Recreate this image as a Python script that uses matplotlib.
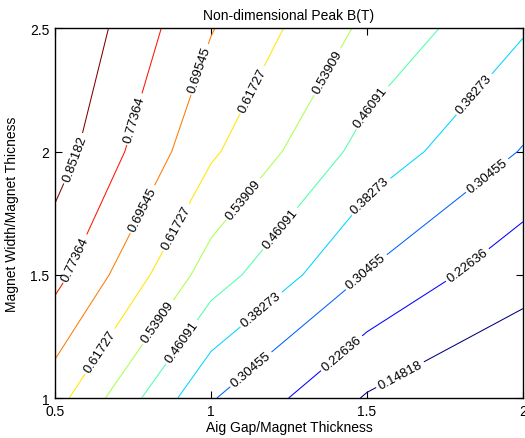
import numpy as np
import matplotlib
matplotlib.use("Agg")
import matplotlib.pyplot as plt

plt.rcParams["font.family"] = ["Liberation Sans", "DejaVu Sans"]

# grid the field was sampled on
gap_ratio = [0.5, 1.0, 1.5, 2.0]
width_ratio = [1.0, 1.5, 2.0, 2.5]

# peak B(T), one row per width ratio
b_w10 = [0.648, 0.311, 0.141, 0.088]
b_w15 = [0.799, 0.501, 0.300, 0.171]
b_w20 = [0.890, 0.630, 0.431, 0.300]
b_w25 = [0.931, 0.700, 0.522, 0.390]

levels = [0.14818, 0.22636, 0.30455, 0.38273, 0.46091,
          0.53909, 0.61727, 0.69545, 0.77364, 0.85182]

x_ticks = [0.5, 1, 1.5, 2]
x_tick_labels = ["0.5", "1", "1.5", "2"]
y_ticks = [1, 1.5, 2, 2.5]
y_tick_labels = ["1", "1.5", "2", "2.5"]

# where the inline labels sit
label_spots = [
    (0.564, 1.97), (0.757, 2.13), (0.58, 1.556),
    (0.971, 2.33), (0.789, 1.76),
    (1.137, 2.247), (0.891, 1.69), (0.65, 1.185),
    (1.378, 2.32), (1.11, 1.80), (0.832, 1.307),
    (1.523, 2.17), (1.223, 1.686), (0.907, 1.226),
    (1.849, 2.226), (1.501, 1.835), (1.164, 1.354),
    (1.887, 1.90), (1.506, 1.503), (1.132, 1.11),
    (1.828, 1.53), (1.421, 1.178),
    (1.608, 1.09),
]

X, Y = np.meshgrid(gap_ratio, width_ratio)
Z = np.array([b_w10, b_w15, b_w20, b_w25])

fig = plt.figure(figsize=(5.25, 4.39), dpi=100)
ax = fig.add_axes([0.1048, 0.0911, 0.8912, 0.8422])

cs = ax.contour(X, Y, Z, levels=levels, cmap="jet",
                vmin=levels[0], vmax=levels[-1], linewidths=0.75)
ax.clabel(cs, manual=label_spots, inline=True, fmt="%.5g",
          fontsize=9.5, colors="black", inline_spacing=3)

ax.set_xlim(0.5, 2)
ax.set_ylim(1, 2.5)
ax.set_xticks(x_ticks)
ax.set_xticklabels(x_tick_labels)
ax.set_yticks(y_ticks)
ax.set_yticklabels(y_tick_labels)
ax.tick_params(direction="in", top=True, right=True, labelsize=10,
               length=5, width=0.8, pad=4)
for s in ax.spines.values():
    s.set_linewidth(1.0)

ax.set_title("Non-dimensional Peak B(T)", fontsize=10, pad=7)
ax.set_xlabel("Aig Gap/Magnet Thickness", fontsize=10, labelpad=2)
ax.set_ylabel("Magnet Width/Magnet Thicness", fontsize=10, labelpad=8)

fig.savefig("out.png", dpi=100)
